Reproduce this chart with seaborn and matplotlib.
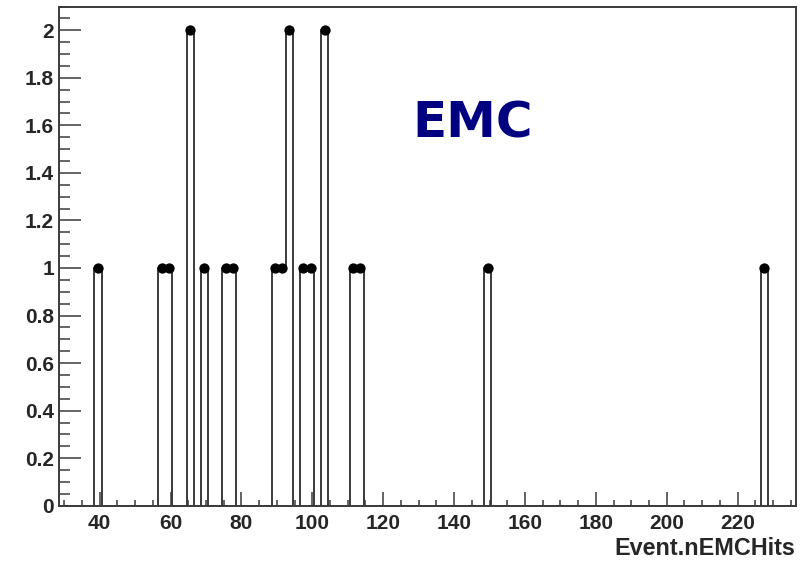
import numpy as np
import pandas as pd
import matplotlib
matplotlib.use("Agg")
import matplotlib.pyplot as plt
from matplotlib.ticker import MultipleLocator, FuncFormatter
import seaborn as sns

# Data: histogram bins (width 2) with non-zero content
bin_centers = [39.5, 57.5, 59.5, 65.5, 69.5, 75.5, 77.5, 89.5, 91.5, 93.5,
               97.5, 99.5, 103.5, 111.5, 113.5, 149.5, 227.5]
counts = [1, 1, 1, 2, 1, 1, 1, 1, 1, 2, 1, 1, 2, 1, 1, 1, 1]
x_min, x_max, bin_width = 28.5, 236.5, 2
x_label = "Event.nEMCHits"
title_text = "EMC"

df = pd.DataFrame({"x": bin_centers, "n": counts})

sns.set_style("ticks")
plt.rcParams["font.family"] = ["Liberation Sans", "DejaVu Sans"]
plt.rcParams["font.weight"] = "bold"

fig = plt.figure(figsize=(8.07, 5.64), dpi=100)
ax = fig.add_axes([59 / 807, 1 - 505.7 / 564, (796 - 59) / 807, (505.7 - 6.5) / 564])

line_col = "#3a3a3a"
sns.histplot(data=df, x="x", weights="n", binrange=(x_min, x_max), binwidth=bin_width,
             element="step", fill=False, color=line_col, linewidth=1.4, ax=ax)
sns.scatterplot(data=df, x="x", y="n", color="black", s=55, marker="o",
                edgecolor="black", linewidth=0, ax=ax, zorder=5, clip_on=False)

ax.set_xlim(x_min, x_max)
ax.set_ylim(0, 2.1)
ax.set_ylabel("")
ax.set_xlabel("")

ax.xaxis.set_major_locator(MultipleLocator(20))
ax.xaxis.set_minor_locator(MultipleLocator(5))
ax.yaxis.set_major_locator(MultipleLocator(0.2))
ax.yaxis.set_minor_locator(MultipleLocator(0.05))
fmt = FuncFormatter(lambda v, p: f"{v:g}")
ax.xaxis.set_major_formatter(fmt)
ax.yaxis.set_major_formatter(fmt)

ax.tick_params(axis="x", which="major", direction="in", length=10, width=1.1,
               color=line_col, labelsize=15, pad=6.3)
ax.tick_params(axis="x", which="minor", direction="in", length=4.5, width=1.1,
               color=line_col)
ax.tick_params(axis="y", which="major", direction="in", length=16, width=1.1,
               color=line_col, labelsize=15, pad=3.5)
ax.tick_params(axis="y", which="minor", direction="in", length=8, width=1.1,
               color=line_col)
for lab in ax.get_xticklabels() + ax.get_yticklabels():
    lab.set_fontweight("bold")

for sp in ax.spines.values():
    sp.set_visible(True)
    sp.set_color(line_col)
    sp.set_linewidth(1.4)

fig.text(795 / 807, 1 - 555 / 564, x_label, ha="right", va="baseline",
         fontsize=16.8, fontweight="bold")
fig.text(412.5 / 807, 1 - 137.7 / 564, title_text, ha="left", va="baseline",
         fontsize=36, fontweight="bold", color="#000080",
         family=["DejaVu Sans"])

fig.savefig("out.png", dpi=100)
